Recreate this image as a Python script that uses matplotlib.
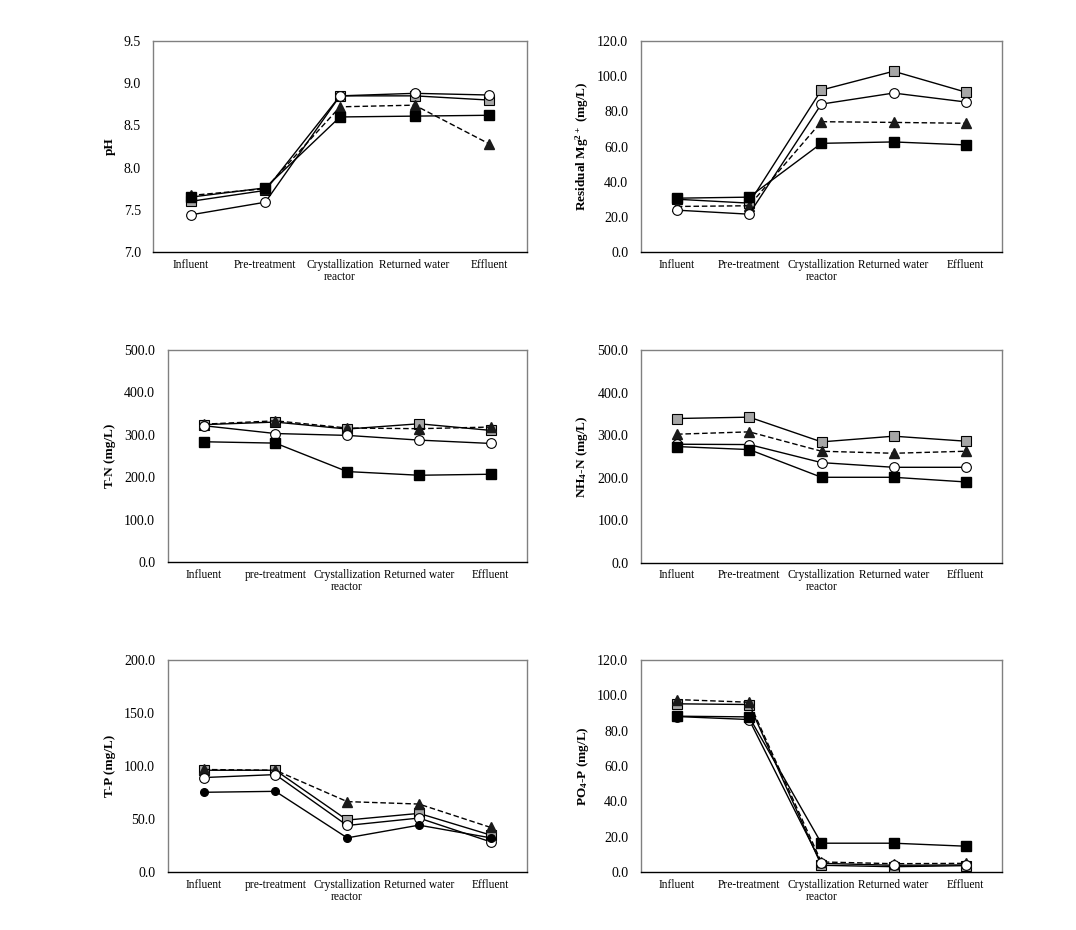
import matplotlib
matplotlib.use('Agg')
import matplotlib.pyplot as plt

plt.rcParams['font.family'] = ['Liberation Serif', 'DejaVu Serif']
plt.rcParams['mathtext.fontset'] = 'custom'
plt.rcParams['mathtext.rm'] = 'Liberation Serif:bold'
plt.rcParams['mathtext.default'] = 'rm'

### Dados

stages = ['Influent', 'Pre-treatment', 'Crystallization\nreactor', 'Returned water', 'Effluent']
stages_lower = ['Influent', 'pre-treatment', 'Crystallization\nreactor', 'Returned water', 'Effluent']

# pH
ph_black = [7.65, 7.76, 8.60, 8.61, 8.62]
ph_gray = [7.60, 7.73, 8.85, 8.85, 8.80]
ph_circle = [7.44, 7.59, 8.85, 8.88, 8.86]
ph_tri = [7.67, 7.75, 8.72, 8.74, 8.28]

# Residual Mg2+
mg_black = [30.6, 31.2, 61.8, 62.6, 60.9]
mg_gray = [30.0, 27.8, 92.1, 102.8, 90.9]
mg_circle = [23.8, 21.5, 84.1, 90.4, 85.3]
mg_tri = [25.9, 26.3, 74.1, 73.7, 73.2]

# T-N
tn_black = [283.6, 280.4, 213.3, 204.6, 207.0]
tn_gray = [324.0, 330.0, 313.6, 326.0, 310.4]
tn_circle = [321.5, 303.0, 298.6, 287.5, 279.6]
tn_tri = [325.0, 333.0, 316.0, 314.4, 318.3]

# NH4-N
nh_black = [272.8, 265.7, 200.5, 200.5, 189.5]
nh_gray = [338.8, 342.0, 283.8, 297.2, 285.4]
nh_circle = [278.3, 277.5, 235.0, 224.0, 224.0]
nh_tri = [301.9, 307.4, 261.8, 257.0, 261.8]

# T-P
tp_black = [75.2, 76.1, 32.2, 44.2, 32.2]
tp_gray = [96.0, 96.0, 49.0, 55.3, 34.8]
tp_circle = [89.1, 91.9, 43.9, 50.9, 28.4]
tp_tri = [96.7, 96.0, 66.4, 64.1, 42.0]

# PO4-P
po_black = [88.2, 87.8, 16.3, 16.3, 14.6]
po_gray = [95.2, 94.8, 3.8, 3.0, 3.6]
po_circle = [88.0, 86.3, 4.9, 3.8, 4.0]
po_tri = [97.6, 96.1, 5.7, 4.7, 4.9]


### Figura

W, H = 1076, 930
fig = plt.figure(figsize=(W / 100, H / 100), dpi=100)


def make_axes(left, right, top, bottom):
    return fig.add_axes([left / W, 1 - bottom / H, (right - left) / W, (bottom - top) / H])


def draw_panel(ax, black, gray, circle, tri, ylim, yticks, ylabel, labels, label_x, black_marker='s'):
    x = range(len(labels))
    ax.plot(x, gray, color='black', lw=1.0, marker='s', ms=7, mfc='#a6a6a6', mec='black', mew=0.8, zorder=3)
    ax.plot(x, tri, color='black', lw=1.0, linestyle=(0, (4, 2)), marker='^', ms=7,
            mfc='#1a1a1a', mec='#1a1a1a', zorder=4)
    ax.plot(x, circle, color='black', lw=1.0, marker='o', ms=7, mfc='white', mec='black', mew=0.8, zorder=5)
    if black_marker == 'o':
        ax.plot(x, black, color='black', lw=1.0, marker='o', ms=5.5, mfc='black', mec='black', zorder=6)
    else:
        ax.plot(x, black, color='black', lw=1.0, marker='s', ms=6.5, mfc='black', mec='black', zorder=6)

    ax.set_xlim(-0.5, len(labels) - 0.5)
    ax.set_ylim(*ylim)
    ax.set_yticks(yticks)
    ax.set_yticklabels(['%.1f' % v for v in yticks], fontsize=10)
    ax.set_xticks(list(x))
    ax.set_xticklabels(labels, fontsize=8.3, linespacing=1.0)
    ax.tick_params(axis='both', length=0)
    ax.tick_params(axis='y', pad=9)
    ax.tick_params(axis='x', pad=5)

    for side in ['top', 'right', 'left']:
        ax.spines[side].set_color('#808080')
        ax.spines[side].set_linewidth(1.0)
    ax.spines['bottom'].set_color('black')
    ax.spines['bottom'].set_linewidth(1.0)

    # rótulo do eixo y centrado em label_x (pixels)
    ax.set_ylabel(ylabel, fontsize=9.5, fontweight='bold')
    pos = ax.get_position()
    ax.yaxis.set_label_coords((label_x + 6) / W, pos.y0 + pos.height / 2, transform=fig.transFigure)


ax1 = make_axes(153.3, 526.7, 41, 252)
draw_panel(ax1, ph_black, ph_gray, ph_circle, ph_tri, (7.0, 9.5),
           [7.0, 7.5, 8.0, 8.5, 9.0, 9.5], 'pH', stages, 110)

ax2 = make_axes(640.7, 1002, 41, 252)
draw_panel(ax2, mg_black, mg_gray, mg_circle, mg_tri, (0, 120),
           [0, 20, 40, 60, 80, 100, 120], 'Residual Mg$^{2+}$ (mg/L)', stages, 585)

ax3 = make_axes(167.7, 526.7, 350, 562)
draw_panel(ax3, tn_black, tn_gray, tn_circle, tn_tri, (0, 500),
           [0, 100, 200, 300, 400, 500], 'T-N (mg/L)', stages_lower, 110)

ax4 = make_axes(641, 1002, 350, 562.5)
draw_panel(ax4, nh_black, nh_gray, nh_circle, nh_tri, (0, 500),
           [0, 100, 200, 300, 400, 500], 'NH$_4$-N (mg/L)', stages, 584)

ax5 = make_axes(167.7, 526.7, 660, 872)
draw_panel(ax5, tp_black, tp_gray, tp_circle, tp_tri, (0, 200),
           [0, 50, 100, 150, 200], 'T-P (mg/L)', stages_lower, 110, black_marker='o')

ax6 = make_axes(640.7, 1002, 660, 872)
draw_panel(ax6, po_black, po_gray, po_circle, po_tri, (0, 120),
           [0, 20, 40, 60, 80, 100, 120], 'PO$_4$-P (mg/L)', stages, 585)

fig.savefig('out.png', dpi=100)
